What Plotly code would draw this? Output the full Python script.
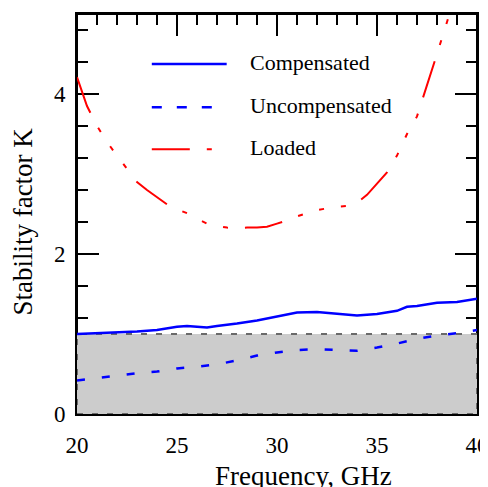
import plotly.graph_objects as go

# ---- data ----
freq_comp = [20, 21, 22, 23, 24, 25, 25.5, 26, 26.5, 27, 28, 29, 30, 31, 32, 33, 34, 35, 36, 36.5, 37, 38, 39, 40]
k_comp = [1.00, 1.01, 1.02, 1.03, 1.05, 1.09, 1.10, 1.09, 1.08, 1.10, 1.13, 1.17, 1.22, 1.27, 1.275, 1.25, 1.23, 1.25, 1.29, 1.34, 1.35, 1.39, 1.40, 1.44]

freq_unc = [20, 21, 22, 23, 24, 25, 26, 27, 28, 29, 30, 31, 32, 33, 34, 35, 36, 37, 38, 39, 40]
k_unc = [0.42, 0.45, 0.48, 0.51, 0.53, 0.57, 0.59, 0.62, 0.67, 0.73, 0.77, 0.80, 0.81, 0.80, 0.79, 0.83, 0.88, 0.94, 0.98, 1.01, 1.05]

freq_load = [20, 20.5, 21, 21.5, 22, 22.5, 23, 23.5, 24, 24.5, 25, 25.5, 26, 26.5, 27, 27.5, 28, 28.5, 29, 29.5,
             30, 30.5, 31, 31.5, 32, 32.5, 33, 33.5, 34, 34.5, 35, 35.5, 36, 36.5, 37, 37.5, 38, 38.5, 38.8]
k_load = [4.21, 3.85, 3.60, 3.40, 3.23, 3.06, 2.90, 2.80, 2.71, 2.62, 2.56, 2.51, 2.44, 2.38, 2.35, 2.33, 2.32, 2.33, 2.33, 2.34,
          2.38, 2.42, 2.47, 2.51, 2.55, 2.57, 2.59, 2.60, 2.64, 2.74, 2.88, 3.02, 3.23, 3.50, 3.72, 4.10, 4.50, 4.90, 5.15]

series_names = ["Compensated", "Uncompensated", "Loaded"]
k_threshold = 1.0
x_range = [20, 40]
y_range = [0, 5]

FONT = "Liberation Serif"
BLUE = "#0000ff"
RED = "#ff0000"
LOAD_DASH = "38px,17px,5px,17px,5px,17px,5px,17px"
MAJOR_LEN, MINOR_LEN = 22, 11

fig = go.Figure()

# unstable region (K < 1)
fig.add_trace(go.Scatter(
    x=[x_range[0], x_range[1], x_range[1], x_range[0], x_range[0]],
    y=[0, 0, k_threshold, k_threshold, 0],
    mode="lines", fill="toself", fillcolor="#cccccc",
    line=dict(color="#6a6a6a", width=2, dash="6px,9px"),
    hoverinfo="skip", showlegend=False))

fig.add_trace(go.Scatter(x=freq_comp, y=k_comp, mode="lines", name=series_names[0],
                         line=dict(color=BLUE, width=2.5)))
fig.add_trace(go.Scatter(x=freq_unc, y=k_unc, mode="lines", name=series_names[1],
                         line=dict(color=BLUE, width=2.5, dash="8px,17px")))
fig.add_trace(go.Scatter(x=freq_load, y=k_load, mode="lines", name=series_names[2],
                         line=dict(color=RED, width=2, dash=LOAD_DASH)))

tickfont = dict(family=FONT, size=23, color="black")
minor_x = dict(ticks="inside", ticklen=MINOR_LEN, tickwidth=2, tickcolor="black", dtick=1, tick0=20, showgrid=False)
minor_y = dict(ticks="inside", ticklen=MINOR_LEN, tickwidth=2, tickcolor="black", dtick=0.4, tick0=0, showgrid=False)

# the page body adds an 8px offset; the figure size/margins compensate for it
fig.update_layout(
    width=480, height=479,
    margin=dict(l=69, r=11, t=6, b=73, autoexpand=False),
    paper_bgcolor="white", plot_bgcolor="white",
    showlegend=False,
    font=dict(family=FONT, color="black"),
    xaxis=dict(range=x_range, showline=True, linecolor="black", linewidth=2, mirror="allticks",
               ticks="inside", ticklen=MAJOR_LEN, tickwidth=2, tickcolor="black", minor=minor_x,
               showgrid=False, zeroline=False,
               tickmode="linear", tick0=20, dtick=5, tickfont=tickfont, ticklabeloverflow="allow",
               ticklabelstandoff=9, layer="below traces"),
    yaxis=dict(range=y_range, showline=True, linecolor="black", linewidth=2, mirror="allticks",
               ticks="inside", ticklen=MAJOR_LEN, tickwidth=2, tickcolor="black", minor=minor_y,
               tickmode="linear", tick0=0, dtick=2, showgrid=False, zeroline=False,
               tickfont=tickfont, ticklabelstandoff=5, layer="below traces"),
)

# plot frame (redundant with the mirrored axis lines)
fig.add_shape(type="rect", xref="paper", yref="paper", x0=0, x1=1, y0=0, y1=1,
              line=dict(color="black", width=2), fillcolor="rgba(0,0,0,0)", layer="below")

# axis titles
fig.add_annotation(text="Frequency, GHz", xref="paper", yref="paper", x=0.565, y=-0.155,
                   xanchor="center", yanchor="middle", showarrow=False,
                   font=dict(family=FONT, size=27, color="black"))
fig.add_annotation(text="Stability factor K", xref="paper", yref="paper", x=-0.135, y=0.481,
                   xanchor="center", yanchor="middle", textangle=-90, showarrow=False,
                   font=dict(family=FONT, size=27, color="black"))

# custom legend
legend_rows = [
    (series_names[0], 0.875, 0.3742, dict(color=BLUE, width=2.5)),
    (series_names[1], 0.767, 0.337, dict(color=BLUE, width=2.5, dash="10px,15px")),
    (series_names[2], 0.662, 0.34, dict(color=RED, width=2, dash=LOAD_DASH)),
]
for name, yy, x1, ln in legend_rows:
    fig.add_shape(type="line", xref="paper", yref="paper", x0=0.187, x1=x1, y0=yy, y1=yy, line=ln)
    fig.add_annotation(text=name, xref="paper", yref="paper", x=0.428, y=yy + 0.004,
                       xanchor="left", yanchor="middle", showarrow=False,
                       font=dict(family=FONT, size=22, color="black"))

fig.write_html("out.html", config={"displayModeBar": False})
